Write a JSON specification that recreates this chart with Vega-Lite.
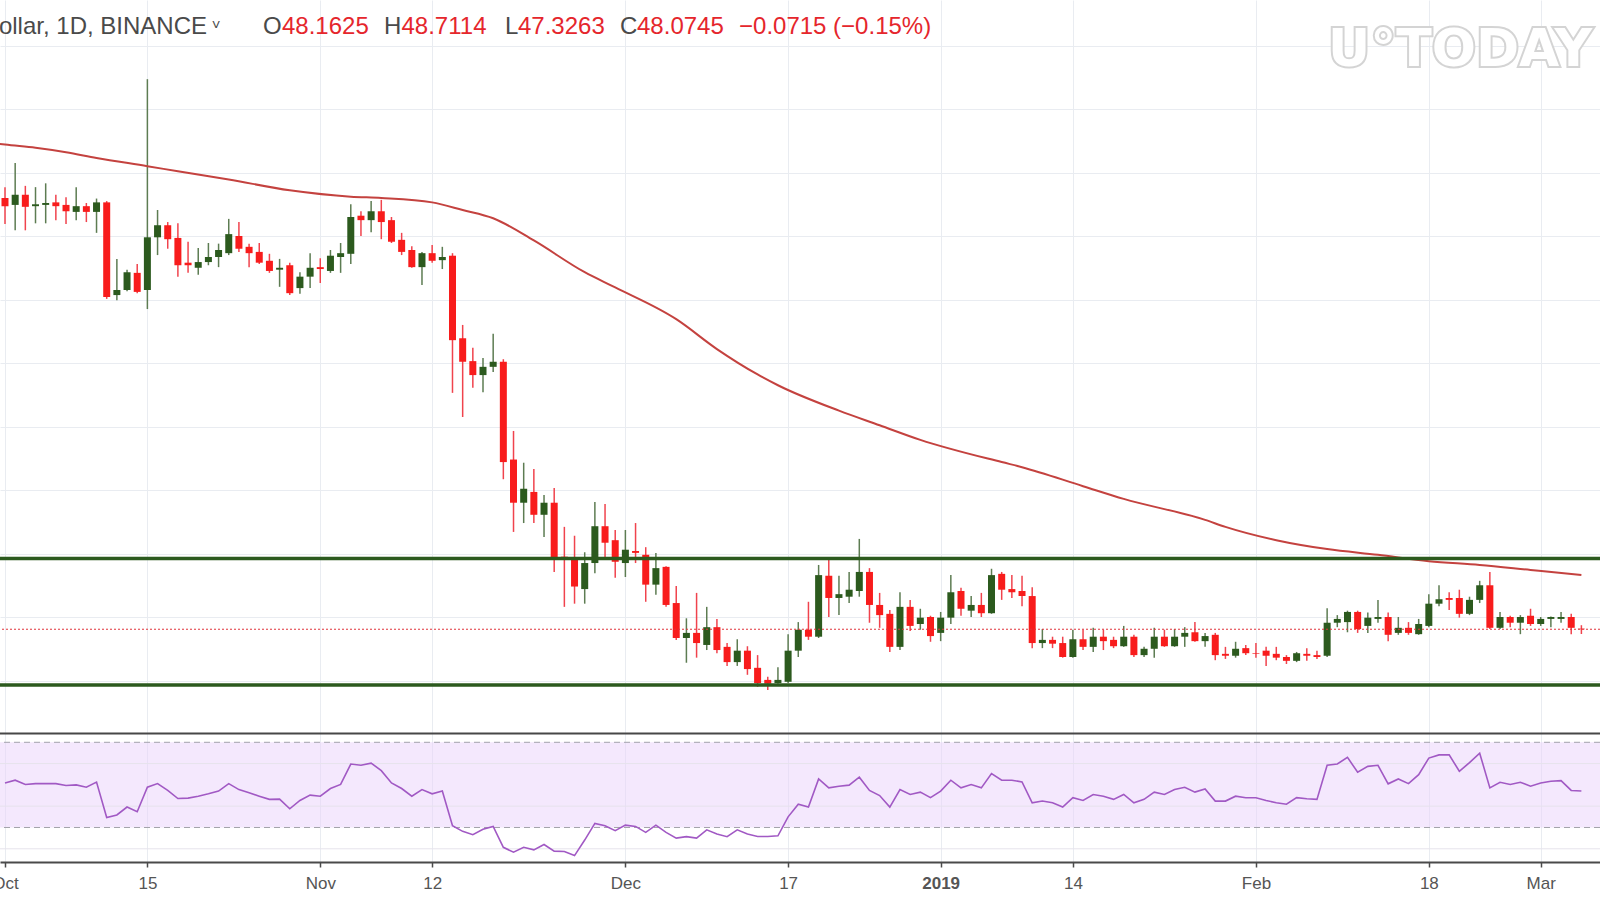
{
  "$schema": "https://vega.github.io/schema/vega-lite/v6.json",
  "width": 1600,
  "height": 862,
  "autosize": {"type": "none"},
  "padding": {"left": 0, "top": 0, "right": 0, "bottom": 38},
  "background": "#ffffff",
  "config": {
    "view": {"stroke": null},
    "font": "Liberation Sans",
    "scale": {"continuousPadding": 0},
    "axisX": {
      "grid": true, "gridColor": "#e9ecf1", "gridWidth": 1,
      "domainColor": "#4a4a4a", "domainWidth": 2,
      "tickColor": "#4a4a4a", "tickSize": 5, "tickWidth": 1.5,
      "labelFont": "Liberation Sans", "labelFontSize": 17, "labelColor": "#555555",
      "labelPadding": 8, "labelBound": false, "labelFlush": false, "labelOverlap": false
    },
    "axisY": {
      "grid": true, "gridColor": "#e9ecf1", "labels": false, "ticks": false, "domain": false, "minExtent": 0, "maxExtent": 0
    }
  },
  "datasets": {
    "k": [
      {"t":"2018-10-01","o":116.0,"h":117.7,"l":111.9,"c":114.7,"r":50.9},
      {"t":"2018-10-02","o":114.9,"h":121.5,"l":110.9,"c":116.5,"r":52.2},
      {"t":"2018-10-03","o":116.5,"h":117.9,"l":110.9,"c":114.6,"r":50.2},
      {"t":"2018-10-04","o":114.7,"h":117.7,"l":112.0,"c":115.0,"r":50.6},
      {"t":"2018-10-05","o":114.9,"h":118.3,"l":112.0,"c":115.2,"r":50.6},
      {"t":"2018-10-06","o":115.3,"h":116.5,"l":112.5,"c":114.7,"r":50.6},
      {"t":"2018-10-07","o":114.9,"h":116.1,"l":111.9,"c":113.9,"r":49.7},
      {"t":"2018-10-08","o":113.8,"h":117.7,"l":112.5,"c":114.7,"r":50.0},
      {"t":"2018-10-09","o":114.7,"h":115.2,"l":112.2,"c":113.8,"r":48.9},
      {"t":"2018-10-10","o":113.8,"h":115.9,"l":110.5,"c":115.3,"r":51.3},
      {"t":"2018-10-11","o":115.3,"h":115.5,"l":100.1,"c":100.4,"r":34.7},
      {"t":"2018-10-12","o":100.7,"h":106.4,"l":99.9,"c":101.5,"r":35.9},
      {"t":"2018-10-13","o":101.5,"h":104.7,"l":101.3,"c":104.3,"r":39.6},
      {"t":"2018-10-14","o":104.2,"h":105.6,"l":101.0,"c":101.2,"r":37.4},
      {"t":"2018-10-15","o":101.5,"h":134.7,"l":98.5,"c":109.8,"r":48.9},
      {"t":"2018-10-16","o":109.8,"h":114.1,"l":107.0,"c":111.7,"r":50.6},
      {"t":"2018-10-17","o":111.7,"h":112.2,"l":108.0,"c":109.5,"r":47.4},
      {"t":"2018-10-18","o":109.7,"h":112.0,"l":103.6,"c":105.4,"r":43.6},
      {"t":"2018-10-19","o":105.8,"h":109.1,"l":104.2,"c":105.4,"r":43.8},
      {"t":"2018-10-20","o":105.0,"h":108.1,"l":103.9,"c":105.9,"r":44.7},
      {"t":"2018-10-21","o":105.9,"h":108.9,"l":105.4,"c":106.7,"r":45.8},
      {"t":"2018-10-22","o":106.7,"h":108.8,"l":105.1,"c":107.8,"r":47.1},
      {"t":"2018-10-23","o":107.3,"h":112.7,"l":107.0,"c":110.3,"r":50.6},
      {"t":"2018-10-24","o":110.0,"h":112.2,"l":107.5,"c":108.0,"r":47.8},
      {"t":"2018-10-25","o":108.3,"h":108.8,"l":105.1,"c":107.3,"r":46.3},
      {"t":"2018-10-26","o":107.5,"h":108.9,"l":105.6,"c":105.8,"r":44.7},
      {"t":"2018-10-27","o":106.1,"h":107.2,"l":104.2,"c":104.5,"r":43.2},
      {"t":"2018-10-28","o":104.7,"h":106.4,"l":102.0,"c":105.0,"r":43.3},
      {"t":"2018-10-29","o":105.4,"h":105.8,"l":100.7,"c":101.0,"r":38.8},
      {"t":"2018-10-30","o":101.8,"h":104.3,"l":100.9,"c":103.6,"r":42.7},
      {"t":"2018-10-31","o":103.6,"h":107.3,"l":101.8,"c":105.0,"r":45.2},
      {"t":"2018-11-01","o":105.1,"h":106.5,"l":102.6,"c":104.8,"r":44.7},
      {"t":"2018-11-02","o":104.5,"h":107.8,"l":104.2,"c":106.9,"r":48.3},
      {"t":"2018-11-03","o":106.7,"h":108.9,"l":104.2,"c":107.3,"r":50.2},
      {"t":"2018-11-04","o":107.2,"h":115.0,"l":105.6,"c":113.0,"r":59.8},
      {"t":"2018-11-05","o":113.2,"h":113.9,"l":110.0,"c":112.5,"r":59.2},
      {"t":"2018-11-06","o":112.5,"h":115.5,"l":110.6,"c":113.9,"r":60.2},
      {"t":"2018-11-07","o":113.9,"h":115.7,"l":109.5,"c":112.2,"r":56.7},
      {"t":"2018-11-08","o":112.5,"h":113.0,"l":108.9,"c":109.1,"r":50.9},
      {"t":"2018-11-09","o":109.4,"h":110.5,"l":107.0,"c":107.5,"r":48.3},
      {"t":"2018-11-10","o":107.8,"h":108.4,"l":105.0,"c":105.1,"r":44.7},
      {"t":"2018-11-11","o":105.1,"h":107.5,"l":102.3,"c":107.3,"r":47.8},
      {"t":"2018-11-12","o":107.3,"h":108.6,"l":105.8,"c":106.1,"r":45.8},
      {"t":"2018-11-13","o":106.2,"h":108.3,"l":104.8,"c":106.7,"r":47.1},
      {"t":"2018-11-14","o":106.9,"h":107.3,"l":85.3,"c":93.6,"r":30.8},
      {"t":"2018-11-15","o":93.9,"h":96.0,"l":81.5,"c":90.2,"r":28.2},
      {"t":"2018-11-16","o":90.3,"h":92.4,"l":86.1,"c":88.1,"r":26.6},
      {"t":"2018-11-17","o":88.1,"h":90.8,"l":85.4,"c":89.4,"r":29.2},
      {"t":"2018-11-18","o":89.4,"h":94.6,"l":88.6,"c":90.2,"r":30.5},
      {"t":"2018-11-19","o":90.2,"h":90.6,"l":71.7,"c":74.4,"r":20.7},
      {"t":"2018-11-20","o":74.8,"h":79.3,"l":63.4,"c":68.0,"r":18.4},
      {"t":"2018-11-21","o":68.0,"h":74.3,"l":64.8,"c":70.2,"r":20.7},
      {"t":"2018-11-22","o":69.7,"h":73.3,"l":64.8,"c":66.1,"r":19.5},
      {"t":"2018-11-23","o":66.1,"h":69.2,"l":62.6,"c":68.0,"r":22.0},
      {"t":"2018-11-24","o":68.0,"h":70.3,"l":57.1,"c":59.3,"r":18.9},
      {"t":"2018-11-25","o":59.5,"h":64.2,"l":51.6,"c":59.1,"r":18.7},
      {"t":"2018-11-26","o":59.3,"h":62.8,"l":52.1,"c":54.8,"r":16.8},
      {"t":"2018-11-27","o":54.4,"h":60.2,"l":52.1,"c":58.5,"r":24.1},
      {"t":"2018-11-28","o":58.5,"h":68.1,"l":56.9,"c":64.3,"r":31.9},
      {"t":"2018-11-29","o":64.3,"h":67.8,"l":59.3,"c":61.7,"r":30.8},
      {"t":"2018-11-30","o":62.1,"h":63.7,"l":56.2,"c":58.7,"r":28.5},
      {"t":"2018-12-01","o":58.5,"h":63.7,"l":56.3,"c":60.6,"r":31.1},
      {"t":"2018-12-02","o":60.4,"h":64.8,"l":58.5,"c":60.1,"r":30.5},
      {"t":"2018-12-03","o":59.8,"h":61.0,"l":52.4,"c":55.1,"r":27.7},
      {"t":"2018-12-04","o":55.1,"h":60.1,"l":53.5,"c":57.7,"r":31.1},
      {"t":"2018-12-05","o":57.9,"h":58.0,"l":51.6,"c":51.9,"r":27.7},
      {"t":"2018-12-06","o":52.2,"h":54.9,"l":46.4,"c":46.7,"r":25.0},
      {"t":"2018-12-07","o":46.7,"h":49.8,"l":42.8,"c":47.5,"r":25.7},
      {"t":"2018-12-08","o":47.5,"h":53.8,"l":43.6,"c":45.9,"r":25.0},
      {"t":"2018-12-09","o":45.6,"h":51.6,"l":44.8,"c":48.4,"r":28.9},
      {"t":"2018-12-10","o":48.4,"h":49.7,"l":44.3,"c":44.8,"r":26.9},
      {"t":"2018-12-11","o":45.3,"h":45.9,"l":42.3,"c":42.9,"r":25.7},
      {"t":"2018-12-12","o":42.9,"h":46.5,"l":42.3,"c":44.7,"r":28.9},
      {"t":"2018-12-13","o":44.7,"h":45.4,"l":40.9,"c":41.8,"r":26.9},
      {"t":"2018-12-14","o":42.0,"h":44.0,"l":39.0,"c":39.6,"r":25.8},
      {"t":"2018-12-15","o":40.1,"h":40.6,"l":38.5,"c":39.5,"r":25.8},
      {"t":"2018-12-16","o":39.6,"h":42.1,"l":39.5,"c":40.1,"r":26.1},
      {"t":"2018-12-17","o":39.8,"h":47.3,"l":39.6,"c":44.7,"r":35.0},
      {"t":"2018-12-18","o":44.7,"h":49.2,"l":43.7,"c":48.0,"r":40.9},
      {"t":"2018-12-19","o":48.0,"h":52.4,"l":46.4,"c":46.9,"r":39.6},
      {"t":"2018-12-20","o":46.9,"h":58.2,"l":46.7,"c":56.6,"r":52.8},
      {"t":"2018-12-21","o":56.5,"h":59.1,"l":50.0,"c":53.0,"r":48.6},
      {"t":"2018-12-22","o":53.0,"h":56.5,"l":50.3,"c":53.6,"r":49.4},
      {"t":"2018-12-23","o":53.2,"h":57.1,"l":52.2,"c":54.3,"r":49.9},
      {"t":"2018-12-24","o":54.1,"h":62.3,"l":53.2,"c":57.1,"r":53.6},
      {"t":"2018-12-25","o":57.1,"h":57.7,"l":49.1,"c":51.9,"r":47.4},
      {"t":"2018-12-26","o":51.9,"h":53.8,"l":48.3,"c":50.3,"r":45.0},
      {"t":"2018-12-27","o":50.5,"h":51.1,"l":44.5,"c":45.3,"r":39.6},
      {"t":"2018-12-28","o":45.3,"h":53.9,"l":44.8,"c":51.6,"r":47.8},
      {"t":"2018-12-29","o":51.6,"h":52.7,"l":47.8,"c":48.6,"r":45.5},
      {"t":"2018-12-30","o":48.9,"h":51.3,"l":48.0,"c":49.9,"r":46.6},
      {"t":"2018-12-31","o":50.0,"h":50.2,"l":46.1,"c":47.0,"r":44.0},
      {"t":"2019-01-01","o":47.5,"h":50.8,"l":46.2,"c":49.9,"r":47.1},
      {"t":"2019-01-02","o":49.9,"h":56.6,"l":48.9,"c":53.9,"r":52.2},
      {"t":"2019-01-03","o":54.1,"h":54.6,"l":50.2,"c":51.3,"r":48.6},
      {"t":"2019-01-04","o":51.0,"h":53.3,"l":50.0,"c":51.9,"r":50.2},
      {"t":"2019-01-05","o":51.9,"h":53.8,"l":50.0,"c":50.6,"r":48.6},
      {"t":"2019-01-06","o":50.6,"h":57.6,"l":50.5,"c":56.6,"r":55.3},
      {"t":"2019-01-07","o":56.8,"h":57.1,"l":52.7,"c":54.3,"r":52.2},
      {"t":"2019-01-08","o":54.4,"h":56.6,"l":53.0,"c":53.9,"r":52.2},
      {"t":"2019-01-09","o":54.1,"h":56.5,"l":51.7,"c":53.3,"r":51.4},
      {"t":"2019-01-10","o":53.3,"h":54.7,"l":45.1,"c":45.9,"r":41.6},
      {"t":"2019-01-11","o":45.9,"h":48.1,"l":45.1,"c":46.4,"r":42.4},
      {"t":"2019-01-12","o":46.4,"h":46.9,"l":45.1,"c":45.8,"r":41.6},
      {"t":"2019-01-13","o":45.9,"h":46.9,"l":43.6,"c":43.7,"r":39.6},
      {"t":"2019-01-14","o":43.7,"h":48.0,"l":43.6,"c":46.5,"r":44.0},
      {"t":"2019-01-15","o":46.5,"h":48.0,"l":44.8,"c":45.3,"r":42.7},
      {"t":"2019-01-16","o":45.3,"h":48.3,"l":44.5,"c":46.9,"r":45.5},
      {"t":"2019-01-17","o":46.9,"h":48.0,"l":44.8,"c":46.2,"r":44.7},
      {"t":"2019-01-18","o":46.4,"h":46.9,"l":45.1,"c":45.4,"r":43.2},
      {"t":"2019-01-19","o":45.4,"h":48.6,"l":45.3,"c":46.9,"r":45.5},
      {"t":"2019-01-20","o":46.9,"h":47.2,"l":43.7,"c":44.0,"r":41.6},
      {"t":"2019-01-21","o":44.0,"h":45.3,"l":43.7,"c":45.0,"r":43.2},
      {"t":"2019-01-22","o":45.0,"h":48.3,"l":43.6,"c":46.9,"r":46.6},
      {"t":"2019-01-23","o":46.9,"h":48.0,"l":45.3,"c":45.4,"r":45.5},
      {"t":"2019-01-24","o":45.4,"h":48.1,"l":45.3,"c":46.9,"r":47.8},
      {"t":"2019-01-25","o":46.9,"h":48.4,"l":45.3,"c":47.5,"r":48.9},
      {"t":"2019-01-26","o":47.6,"h":49.2,"l":46.1,"c":46.2,"r":46.6},
      {"t":"2019-01-27","o":46.2,"h":47.5,"l":45.3,"c":47.0,"r":48.1},
      {"t":"2019-01-28","o":47.2,"h":47.5,"l":43.2,"c":44.0,"r":42.4},
      {"t":"2019-01-29","o":44.2,"h":45.3,"l":43.4,"c":43.9,"r":42.4},
      {"t":"2019-01-30","o":43.9,"h":46.1,"l":43.6,"c":45.0,"r":44.7},
      {"t":"2019-01-31","o":45.1,"h":45.6,"l":44.0,"c":44.3,"r":44.0},
      {"t":"2019-02-01","o":44.3,"h":45.9,"l":43.6,"c":44.2,"r":44.0},
      {"t":"2019-02-02","o":44.7,"h":45.3,"l":42.3,"c":43.9,"r":42.7},
      {"t":"2019-02-03","o":44.2,"h":45.3,"l":43.2,"c":43.6,"r":41.6},
      {"t":"2019-02-04","o":43.7,"h":44.0,"l":42.6,"c":43.1,"r":40.9},
      {"t":"2019-02-05","o":43.1,"h":44.5,"l":42.9,"c":44.3,"r":44.0},
      {"t":"2019-02-06","o":44.2,"h":45.1,"l":43.1,"c":43.9,"r":43.5},
      {"t":"2019-02-07","o":44.0,"h":44.7,"l":43.4,"c":43.7,"r":43.2},
      {"t":"2019-02-08","o":43.9,"h":51.4,"l":43.7,"c":49.1,"r":59.2},
      {"t":"2019-02-09","o":49.1,"h":50.3,"l":48.4,"c":49.7,"r":59.8},
      {"t":"2019-02-10","o":49.2,"h":51.0,"l":47.6,"c":50.8,"r":62.9},
      {"t":"2019-02-11","o":50.8,"h":51.0,"l":47.5,"c":48.1,"r":56.0},
      {"t":"2019-02-12","o":48.6,"h":50.7,"l":47.5,"c":49.9,"r":58.7},
      {"t":"2019-02-13","o":49.7,"h":52.7,"l":49.1,"c":50.0,"r":59.2},
      {"t":"2019-02-14","o":50.0,"h":50.7,"l":46.2,"c":47.2,"r":50.5},
      {"t":"2019-02-15","o":47.5,"h":50.0,"l":47.2,"c":48.3,"r":52.8},
      {"t":"2019-02-16","o":48.3,"h":49.2,"l":47.2,"c":47.5,"r":50.6},
      {"t":"2019-02-17","o":47.3,"h":49.7,"l":47.2,"c":48.9,"r":54.8},
      {"t":"2019-02-18","o":48.6,"h":53.6,"l":48.4,"c":52.1,"r":62.6},
      {"t":"2019-02-19","o":52.1,"h":55.0,"l":51.7,"c":52.8,"r":64.1},
      {"t":"2019-02-20","o":53.0,"h":53.9,"l":51.1,"c":52.7,"r":64.1},
      {"t":"2019-02-21","o":53.0,"h":54.3,"l":49.9,"c":50.5,"r":56.4},
      {"t":"2019-02-22","o":50.5,"h":53.2,"l":50.3,"c":52.7,"r":60.5},
      {"t":"2019-02-23","o":52.7,"h":55.7,"l":52.2,"c":55.0,"r":64.9},
      {"t":"2019-02-24","o":55.0,"h":57.1,"l":48.1,"c":48.3,"r":48.6},
      {"t":"2019-02-25","o":48.3,"h":50.8,"l":48.1,"c":50.0,"r":51.2},
      {"t":"2019-02-26","o":50.0,"h":50.2,"l":48.4,"c":49.1,"r":50.2},
      {"t":"2019-02-27","o":49.1,"h":50.3,"l":47.3,"c":50.0,"r":51.2},
      {"t":"2019-02-28","o":50.2,"h":51.3,"l":48.6,"c":48.9,"r":49.4},
      {"t":"2019-03-01","o":48.9,"h":50.0,"l":48.6,"c":49.7,"r":50.9},
      {"t":"2019-03-02","o":49.7,"h":50.1,"l":48.4,"c":50.0,"r":51.7},
      {"t":"2019-03-03","o":49.7,"h":50.8,"l":49.1,"c":50.0,"r":52.0},
      {"t":"2019-03-04","o":50.0,"h":50.5,"l":47.3,"c":48.3,"r":47.4},
      {"t":"2019-03-05","o":48.1625,"h":48.7114,"l":47.3263,"c":48.0745,"r":47.1}
    ],
    "ma": [
      {"t":"2018-09-30","v":124.6},
      {"t":"2018-10-01","v":124.4},{"t":"2018-10-04","v":123.9},{"t":"2018-10-07","v":123.2},
      {"t":"2018-10-10","v":122.3},{"t":"2018-10-15","v":121.0},{"t":"2018-10-18","v":120.2},
      {"t":"2018-10-23","v":118.9},{"t":"2018-10-29","v":117.2},{"t":"2018-11-04","v":116.2},
      {"t":"2018-11-07","v":116.0},{"t":"2018-11-12","v":115.3},{"t":"2018-11-15","v":114.1},
      {"t":"2018-11-18","v":112.8},{"t":"2018-11-22","v":109.3},{"t":"2018-11-27","v":104.3},
      {"t":"2018-11-30","v":101.9},{"t":"2018-12-06","v":96.9},{"t":"2018-12-10","v":92.2},
      {"t":"2018-12-14","v":88.2},{"t":"2018-12-16","v":86.5},{"t":"2018-12-22","v":82.5},
      {"t":"2018-12-26","v":80.2},{"t":"2018-12-30","v":77.9},{"t":"2019-01-07","v":74.4},
      {"t":"2019-01-09","v":73.6},{"t":"2019-01-15","v":70.6},{"t":"2019-01-19","v":68.6},
      {"t":"2019-01-27","v":65.3},{"t":"2019-01-29","v":64.2},{"t":"2019-02-03","v":62.1},
      {"t":"2019-02-08","v":60.7},{"t":"2019-02-13","v":59.8},{"t":"2019-02-18","v":58.8},
      {"t":"2019-02-23","v":58.2},{"t":"2019-02-28","v":57.4},{"t":"2019-03-05","v":56.6}
    ],
    "levels": [{"v": 59.21}, {"v": 39.29}],
    "rsiGrid": [{"v": 20}, {"v": 40}, {"v": 60}],
    "rsiBands": [{"v": 70}, {"v": 30}],
    "one": [{}]
  },
  "layer": [
    {
      "layer": [
        {
          "data": {"name": "k"},
          "mark": {"type": "rule", "strokeWidth": 1.5},
          "encoding": {
            "x": {
              "field": "t", "type": "temporal", "title": null,
              "scale": {"type": "utc", "nice": false, "padding": 0, "domain": [{"year":2018,"month":9,"date":30,"hours":12,"minutes":12,"utc":true},{"year":2019,"month":3,"date":6,"hours":19,"minutes":55,"utc":true}]},
              "axis": {
                "title": null,
                "values": [
                  {"year":2018,"month":10,"date":1,"utc":true},
                  {"year":2018,"month":10,"date":15,"utc":true},
                  {"year":2018,"month":11,"date":1,"utc":true},
                  {"year":2018,"month":11,"date":12,"utc":true},
                  {"year":2018,"month":12,"date":1,"utc":true},
                  {"year":2018,"month":12,"date":17,"utc":true},
                  {"year":2019,"month":1,"date":1,"utc":true},
                  {"year":2019,"month":1,"date":14,"utc":true},
                  {"year":2019,"month":2,"date":1,"utc":true},
                  {"year":2019,"month":2,"date":18,"utc":true},
                  {"year":2019,"month":3,"date":1,"utc":true}
                ],
                "labelExpr": "utcdate(datum.value) == 1 ? (utcmonth(datum.value) == 0 ? utcFormat(datum.value, '%Y') : utcFormat(datum.value, '%b')) : utcFormat(datum.value, '%-d')",
                "labelFontWeight": {"condition": {"test": "utcmonth(datum.value) == 0 && utcdate(datum.value) == 1", "value": "bold"}, "value": "normal"}
              }
            },
            "y": {
              "field": "l", "type": "quantitative", "title": null,
              "scale": {"domain": [11.42, 147.17], "nice": false, "zero": false},
              "axis": {"title": null, "values": [40,50,60,70,80,90,100,110,120,130,140]}
            },
            "y2": {"field": "h"},
            "color": {"condition": {"test": "datum.c >= datum.o", "value": "#5d7c52"}, "value": "#f0434d"}
          }
        },
        {
          "data": {"name": "k"},
          "mark": {"type": "bar", "size": 7},
          "encoding": {
            "x": {"field": "t", "type": "temporal", "title": null},
            "y": {"field": "o", "type": "quantitative", "title": null},
            "y2": {"field": "c"},
            "color": {"condition": {"test": "datum.c >= datum.o", "value": "#2c5a1e"}, "value": "#f81c1c"}
          }
        },
        {
          "data": {"name": "ma"},
          "mark": {"type": "line", "color": "#c4423f", "strokeWidth": 2, "interpolate": "monotone"},
          "encoding": {
            "x": {"field": "t", "type": "temporal", "title": null},
            "y": {"field": "v", "type": "quantitative", "title": null}
          }
        },
        {
          "data": {"name": "levels"},
          "mark": {"type": "rule", "color": "#2c5a1e", "strokeWidth": 3.5},
          "encoding": {"y": {"field": "v", "type": "quantitative", "title": null}}
        },
        {
          "data": {"name": "one"},
          "mark": {"type": "rule", "color": "#e0313a", "strokeWidth": 1, "strokeDash": [2, 2]},
          "encoding": {"y": {"datum": 48.0745, "type": "quantitative", "title": null}}
        },
        {
          "data": {"name": "one"},
          "mark": {"type": "text", "align": "right", "baseline": "alphabetic", "fontSize": 24, "color": "#4a4a4a"},
          "encoding": {
            "x": {"datum": {"year":2018,"month":10,"date":20,"hours":20,"minutes":41,"utc":true}, "type": "temporal", "title": null},
            "y": {"datum": 141.81, "type": "quantitative", "title": null},
            "text": {"value": "ollar, 1D, BINANCE"}
          }
        },
        {
          "data": {"name": "one"},
          "mark": {"type": "text", "align": "center", "baseline": "middle", "fontSize": 15, "color": "#4a4a4a"},
          "encoding": {
            "x": {"datum": {"year":2018,"month":10,"date":21,"hours":17,"minutes":56,"utc":true}, "type": "temporal", "title": null},
            "y": {"datum": 143.2, "type": "quantitative", "title": null},
            "text": {"value": "˅"}
          }
        },
        {
          "data": {"name": "one"},
          "mark": {"type": "text", "align": "left", "baseline": "alphabetic", "fontSize": 24, "color": "#4a4a4a"},
          "encoding": {
            "x": {"datum": {"year":2018,"month":10,"date":26,"hours":8,"minutes":51,"utc":true}, "type": "temporal", "title": null},
            "y": {"datum": 141.81, "type": "quantitative", "title": null},
            "text": {"value": "O"}
          }
        },
        {
          "data": {"name": "one"},
          "mark": {"type": "text", "align": "left", "baseline": "alphabetic", "fontSize": 24, "color": "#e5262c"},
          "encoding": {
            "x": {"datum": {"year":2018,"month":10,"date":28,"hours":5,"minutes":41,"utc":true}, "type": "temporal", "title": null},
            "y": {"datum": 141.81, "type": "quantitative", "title": null},
            "text": {"value": "48.1625"}
          }
        },
        {
          "data": {"name": "one"},
          "mark": {"type": "text", "align": "left", "baseline": "alphabetic", "fontSize": 24, "color": "#4a4a4a"},
          "encoding": {
            "x": {"datum": {"year":2018,"month":11,"date":7,"hours":6,"minutes":24,"utc":true}, "type": "temporal", "title": null},
            "y": {"datum": 141.81, "type": "quantitative", "title": null},
            "text": {"value": "H"}
          }
        },
        {
          "data": {"name": "one"},
          "mark": {"type": "text", "align": "left", "baseline": "alphabetic", "fontSize": 24, "color": "#e5262c"},
          "encoding": {
            "x": {"datum": {"year":2018,"month":11,"date":8,"hours":23,"minutes":41,"utc":true}, "type": "temporal", "title": null},
            "y": {"datum": 141.81, "type": "quantitative", "title": null},
            "text": {"value": "48.7114"}
          }
        },
        {
          "data": {"name": "one"},
          "mark": {"type": "text", "align": "left", "baseline": "alphabetic", "fontSize": 24, "color": "#4a4a4a"},
          "encoding": {
            "x": {"datum": {"year":2018,"month":11,"date":19,"hours":3,"minutes":56,"utc":true}, "type": "temporal", "title": null},
            "y": {"datum": 141.81, "type": "quantitative", "title": null},
            "text": {"value": "L"}
          }
        },
        {
          "data": {"name": "one"},
          "mark": {"type": "text", "align": "left", "baseline": "alphabetic", "fontSize": 24, "color": "#e5262c"},
          "encoding": {
            "x": {"datum": {"year":2018,"month":11,"date":20,"hours":10,"minutes":36,"utc":true}, "type": "temporal", "title": null},
            "y": {"datum": 141.81, "type": "quantitative", "title": null},
            "text": {"value": "47.3263"}
          }
        },
        {
          "data": {"name": "one"},
          "mark": {"type": "text", "align": "left", "baseline": "alphabetic", "fontSize": 24, "color": "#4a4a4a"},
          "encoding": {
            "x": {"datum": {"year":2018,"month":11,"date":30,"hours":11,"minutes":20,"utc":true}, "type": "temporal", "title": null},
            "y": {"datum": 141.81, "type": "quantitative", "title": null},
            "text": {"value": "C"}
          }
        },
        {
          "data": {"name": "one"},
          "mark": {"type": "text", "align": "left", "baseline": "alphabetic", "fontSize": 24, "color": "#e5262c"},
          "encoding": {
            "x": {"datum": {"year":2018,"month":12,"date":2,"hours":3,"minutes":27,"utc":true}, "type": "temporal", "title": null},
            "y": {"datum": 141.81, "type": "quantitative", "title": null},
            "text": {"value": "48.0745"}
          }
        },
        {
          "data": {"name": "one"},
          "mark": {"type": "text", "align": "left", "baseline": "alphabetic", "fontSize": 24, "color": "#e5262c"},
          "encoding": {
            "x": {"datum": {"year":2018,"month":12,"date":12,"hours":4,"minutes":9,"utc":true}, "type": "temporal", "title": null},
            "y": {"datum": 141.81, "type": "quantitative", "title": null},
            "text": {"value": "−0.0715 (−0.15%)"}
          }
        },
        {
          "data": {"name": "one"},
          "mark": {"type": "text", "align": "right", "baseline": "alphabetic", "font": "DejaVu Sans", "fontWeight": "bold", "fontSize": 52, "fill": "#d4d4d4", "stroke": "#d4d4d4", "strokeWidth": 4},
          "encoding": {
            "x": {"datum": {"year":2019,"month":3,"date":6,"hours":1,"minutes":10,"utc":true}, "type": "temporal", "title": null},
            "y": {"datum": 136.77, "type": "quantitative", "title": null},
            "text": {"value": "U°TODAY"}
          }
        },
        {
          "data": {"name": "one"},
          "mark": {"type": "text", "align": "right", "baseline": "alphabetic", "font": "DejaVu Sans", "fontWeight": "bold", "fontSize": 52, "fill": "#ffffff"},
          "encoding": {
            "x": {"datum": {"year":2019,"month":3,"date":6,"hours":1,"minutes":10,"utc":true}, "type": "temporal", "title": null},
            "y": {"datum": 136.77, "type": "quantitative", "title": null},
            "text": {"value": "U°TODAY"}
          }
        }
      ]
    },
    {
      "layer": [
        {
          "data": {"name": "one"},
          "mark": {"type": "rect", "color": "#e9d1fb", "opacity": 0.5},
          "encoding": {
            "x": {"datum": {"year":2018,"month":9,"date":30,"hours":12,"minutes":12,"utc":true}, "type": "temporal", "title": null},
            "x2": {"datum": {"year":2019,"month":3,"date":6,"hours":19,"minutes":55,"utc":true}},
            "y": {"datum": 70, "type": "quantitative", "axis": null, "title": null, "scale": {"domain": [13.8, 418.5], "nice": false, "zero": false}},
            "y2": {"datum": 30}
          }
        },
        {
          "data": {"name": "rsiGrid"},
          "mark": {"type": "rule", "color": "#e6e3ec", "strokeWidth": 1},
          "encoding": {"y": {"field": "v", "type": "quantitative", "axis": null, "title": null}}
        },
        {
          "data": {"name": "rsiBands"},
          "mark": {"type": "rule", "color": "#a3a3ab", "strokeWidth": 1, "strokeDash": [6, 4]},
          "encoding": {"y": {"field": "v", "type": "quantitative", "axis": null, "title": null}}
        },
        {
          "data": {"name": "k"},
          "mark": {"type": "line", "color": "#a159c4", "strokeWidth": 1.6},
          "encoding": {
            "x": {"field": "t", "type": "temporal", "title": null},
            "y": {"field": "r", "type": "quantitative", "axis": null, "title": null}
          }
        },
        {
          "data": {"name": "one"},
          "mark": {"type": "rule", "color": "#474747", "strokeWidth": 2},
          "encoding": {"y": {"datum": 74.1, "type": "quantitative", "axis": null, "title": null}}
        }
      ]
    }
  ],
  "resolve": {"scale": {"y": "independent"}}
}
